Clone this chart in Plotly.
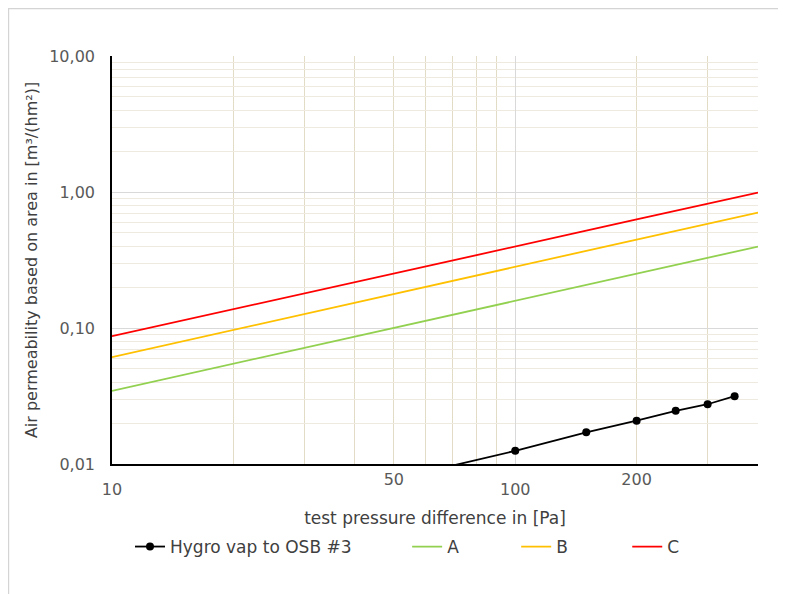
import plotly.graph_objects as go

# ---- data ----
pressure = [10, 20, 50, 100, 150, 200, 250, 300, 350, 400]
series_A = [0.0345, 0.0546, 0.100, 0.158, 0.207, 0.251, 0.291, 0.328, 0.363, 0.397]
series_B = [0.061, 0.097, 0.178, 0.282, 0.369, 0.447, 0.518, 0.585, 0.648, 0.706]
series_C = [0.087, 0.137, 0.251, 0.397, 0.519, 0.628, 0.728, 0.821, 0.908, 0.99]

hygro_pressure = [50, 100, 150, 200, 250, 300, 350]
hygro_values = [0.0077, 0.0125, 0.0171, 0.0208, 0.0246, 0.0275, 0.0315]

x_ticks_low = [10, 100]
x_ticks_high = [50, 200]
x_minor = [20, 30, 40, 50, 60, 70, 80, 90, 200, 300, 400]
y_ticks = [0.01, 0.1, 1, 10]
y_tick_text = ["0,01", "0,10", "1,00", "10,00"]
y_minor = [0.02, 0.03, 0.04, 0.05, 0.06, 0.07, 0.08, 0.09,
           0.2, 0.3, 0.4, 0.5, 0.6, 0.7, 0.8, 0.9,
           2, 3, 4, 5, 6, 7, 8, 9]

FONT = "DejaVu Sans"
TXT = "#404040"
TICK = "#595959"

fig = go.Figure()
fig.add_trace(go.Scatter(x=hygro_pressure, y=hygro_values, mode="lines+markers",
                         name="Hygro vap to OSB #3", line=dict(color="black", width=1.8),
                         marker=dict(color="black", size=8), legend="legend"))
fig.add_trace(go.Scatter(x=pressure, y=series_A, mode="lines", name="A",
                         line=dict(color="#92d050", width=1.8), legend="legend2"))
fig.add_trace(go.Scatter(x=pressure, y=series_B, mode="lines", name="B",
                         line=dict(color="#ffc000", width=1.8), legend="legend3"))
fig.add_trace(go.Scatter(x=pressure, y=series_C, mode="lines", name="C",
                         line=dict(color="#ff0000", width=1.8), legend="legend4"))
# empty trace to carry the second (staggered) x tick row
fig.add_trace(go.Scatter(x=[], y=[], xaxis="x2", showlegend=False, hoverinfo="skip"))

OFF = 8  # page body margin
W, H = 786, 594
L, T = 112 - OFF, 56 - OFF
pw, ph = 645.7, 408
R = W - L - pw
B = H - T - ph

def px_x(page_px):
    return (page_px - OFF - L) / pw

def px_y(page_px):
    return (T + ph - (page_px - OFF)) / ph

leg_common = dict(orientation="h", yanchor="middle", xanchor="left",
                  font=dict(family=FONT, size=17, color=TXT),
                  bgcolor="rgba(0,0,0,0)", borderwidth=0)

fig.update_layout(
    width=W, height=H,
    margin=dict(l=L, r=R, t=T, b=B),
    paper_bgcolor="white", plot_bgcolor="white",
    font=dict(family=FONT, color=TXT),
    xaxis=dict(type="log", range=[1, 2.60206], tickvals=x_ticks_low,
               ticktext=[str(v) for v in x_ticks_low],
               tickfont=dict(family=FONT, size=16, color=TICK),
               ticks="", ticklabelstandoff=10,
               showgrid=True, gridcolor="#d9d9d9", gridwidth=1,
               minor=dict(tickvals=x_minor, showgrid=True, gridcolor="#e2dbc6", gridwidth=1.3),
               showline=True, linecolor="black", linewidth=1.6,
               zeroline=False,
               title=dict(text="test pressure difference in [Pa]",
                          font=dict(family=FONT, size=17, color=TXT), standoff=14)),
    xaxis2=dict(type="log", range=[1, 2.60206], overlaying="x", anchor="y", side="bottom",
                tickvals=x_ticks_high, ticktext=[str(v) for v in x_ticks_high],
                tickfont=dict(family=FONT, size=16, color=TICK),
                ticks="", ticklabelstandoff=4, showgrid=False, showline=False, zeroline=False),
    yaxis=dict(type="log", range=[-2, 1], tickvals=y_ticks, ticktext=y_tick_text,
               tickfont=dict(family=FONT, size=16, color=TICK),
               ticks="", ticklabelstandoff=12,
               showgrid=True, gridcolor="#d9d9d9", gridwidth=1,
               minor=dict(tickvals=y_minor, showgrid=True, gridcolor="#eeeadf", gridwidth=1),
               showline=True, linecolor="black", linewidth=1.6, zeroline=False,
               title=dict(text="Air permeability based on area in [m³/(hm²)]",
                          font=dict(family=FONT, size=16, color=TXT), standoff=8)),
    legend=dict(x=px_x(130), y=px_y(547), **leg_common),
    legend2=dict(x=px_x(407), y=px_y(547), **leg_common),
    legend3=dict(x=px_x(516), y=px_y(547), **leg_common),
    legend4=dict(x=px_x(627), y=px_y(547), **leg_common),
    shapes=[dict(type="rect", xref="paper", yref="paper",
                 x0=px_x(8.5), x1=px_x(900), y0=px_y(700), y1=px_y(8.5),
                 line=dict(color="#d4d4d4", width=1.5), fillcolor="rgba(0,0,0,0)",
                 layer="below")],
    showlegend=True,
)

fig.write_html("out.html")
